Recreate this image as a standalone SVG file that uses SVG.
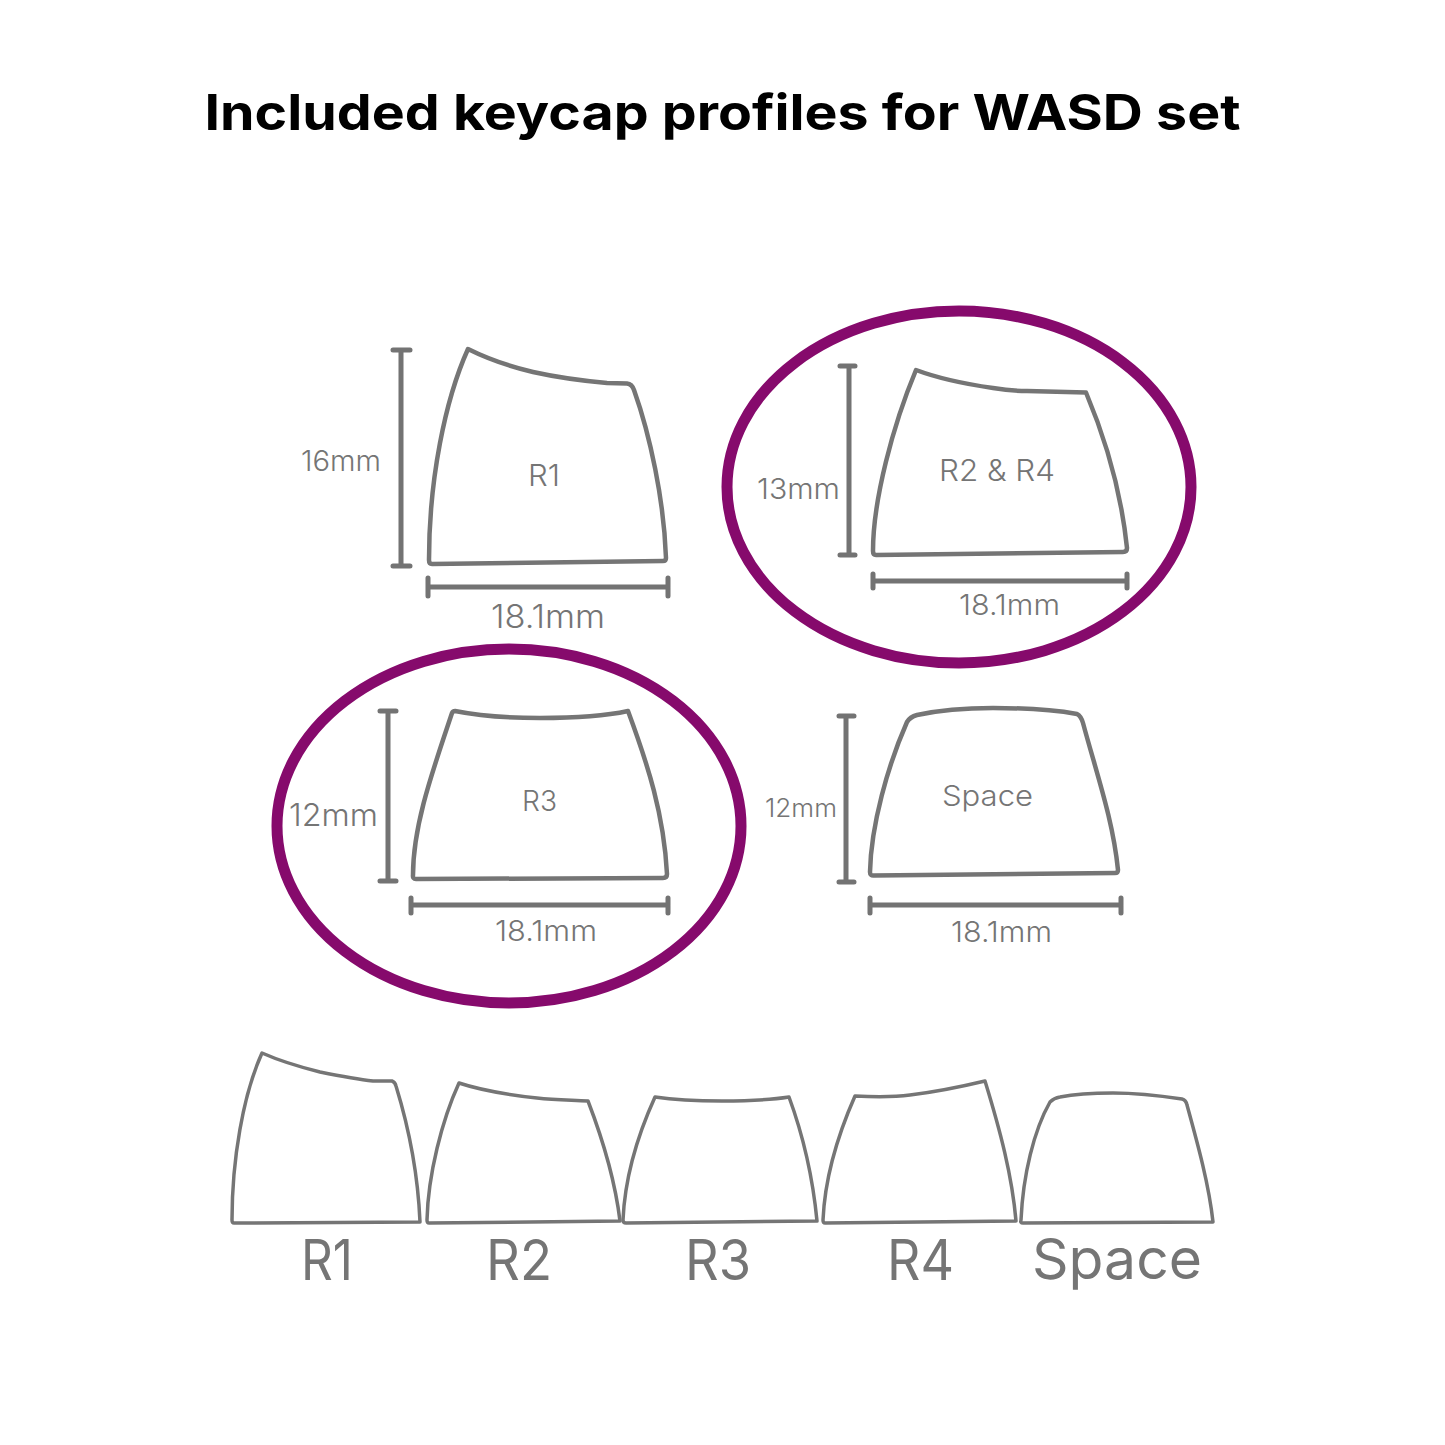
<svg xmlns="http://www.w3.org/2000/svg" width="1445" height="1445" viewBox="0 0 1445 1445">
<style>
.cap{fill:none;stroke:#757575;stroke-linejoin:round;stroke-linecap:round}
.big{stroke-width:4.5}
.small{stroke-width:3.5}
.dim{fill:none;stroke:#737373;stroke-width:5;stroke-linecap:round}
.ring{fill:none;stroke:#860a6c;stroke-width:11}
.t{font-family:"Inter","Noto Sans",sans-serif;fill:#757575;font-weight:300;text-anchor:middle}
.r{font-weight:400}
.title{font-family:"Inter","Liberation Sans",sans-serif;font-weight:700;font-size:49.5px;fill:#000}
</style>
<rect width="1445" height="1445" fill="#fff"/>
<text class="title" x="722.5" y="130" text-anchor="middle" textLength="1036" lengthAdjust="spacingAndGlyphs">Included keycap profiles for WASD set</text>
<g id="ring-r2r4"><ellipse class="ring" cx="959" cy="487" rx="232" ry="176"/></g>
<g id="ring-r3"><ellipse class="ring" cx="509" cy="826" rx="232" ry="177"/></g>
<g id="cap-r1"><path class="cap big" d="M468 349C490 360 512 367 533 372C560 378 585 381 607 383L627 383.5Q632 384 634 390C650 435 664 500 666 558Q666 561 663 561L432 564Q429 564 429 560C429 480 445 400 468 349Z"/><text class="t" x="544" y="486" font-size="30" textLength="32" lengthAdjust="spacingAndGlyphs">R1</text></g>
<g id="cap-r2r4"><path class="cap big" d="M916 370C940 379 965 384 993 388C1005 390 1015 391 1027 391L1086 392.500C1106 440 1121 490 1127 548Q1127 552 1123 552L876 555Q873 555 873 551C873 500 893 425 916 370Z"/><text class="t" x="997" y="481" font-size="30" textLength="116" lengthAdjust="spacingAndGlyphs">R2 &amp; R4</text></g>
<g id="cap-r3"><path class="cap big" d="M455 711C480 716 510 718 540 718C575 718 605 716 628 711C648 765 664 815 667 874Q667 878 663 878L416 879Q412.500 879 413 875C413 825 433 770 452 713Q453 711 455 711Z"/><text class="t" x="539.500" y="811" font-size="29" textLength="35" lengthAdjust="spacingAndGlyphs">R3</text></g>
<g id="cap-space"><path class="cap big" d="M907 722Q910 717 917 715C940 710 965 708 993 708C1025 708 1055 710 1077 714Q1081 716 1083 723C1097 775 1113 820 1118 870Q1118 873 1115 873L874 875.500Q870 876 870 872C871 825 888 765 907 722Z"/><text class="t" x="987.500" y="806" font-size="29" textLength="91" lengthAdjust="spacingAndGlyphs">Space</text></g>
<g id="dimensions">
<path class="dim" d="M393 350H410M401 350V566M393 566H410"/>
<path class="dim" d="M428 578V596M428 587H668M668 578V596"/>
<path class="dim" d="M840 366H855M849 366V555M840 555H855"/>
<path class="dim" d="M873 574V588M873 581H1127M1127 574V588"/>
<path class="dim" d="M380 711H396M388 711V881M380 881H396"/>
<path class="dim" d="M411 898V913M411 905H668M668 898V913"/>
<path class="dim" d="M839 716H854M846 716V882M839 882H854"/>
<path class="dim" d="M870 898V913M870 905H1121M1121 898V913"/>
</g>
<g id="labels">
<text class="t" x="341" y="471" font-size="28" textLength="80" lengthAdjust="spacingAndGlyphs">16mm</text>
<text class="t" x="548" y="628" font-size="32" textLength="114" lengthAdjust="spacingAndGlyphs">18.1mm</text>
<text class="t" x="798.500" y="499" font-size="29" textLength="83" lengthAdjust="spacingAndGlyphs">13mm</text>
<text class="t" x="1009.500" y="615" font-size="29" textLength="101" lengthAdjust="spacingAndGlyphs">18.1mm</text>
<text class="t" x="333.500" y="826" font-size="31" textLength="89" lengthAdjust="spacingAndGlyphs">12mm</text>
<text class="t" x="546" y="941" font-size="29" textLength="102" lengthAdjust="spacingAndGlyphs">18.1mm</text>
<text class="t" x="801" y="817" font-size="25" textLength="72" lengthAdjust="spacingAndGlyphs">12mm</text>
<text class="t" x="1001.500" y="942" font-size="29" textLength="101" lengthAdjust="spacingAndGlyphs">18.1mm</text>
</g>
<g id="row-r1"><path class="cap small" d="M262 1053C280 1061 300 1067 320 1072C340 1076 355 1079 373 1081L392 1081Q395 1082 396 1086C408 1125 418 1175 420 1222L234 1223Q232 1223 232 1220C232 1160 243 1095 262 1053Z"/><text class="t r" x="327" y="1280" font-size="56" textLength="52" lengthAdjust="spacingAndGlyphs">R1</text></g>
<g id="row-r2"><path class="cap small" d="M459 1083C480 1090 510 1095 537 1098C555 1100 570 1100 588 1101C603 1140 615 1180 620 1221L429 1223Q427 1223 427 1220C428 1175 442 1120 459 1083Z"/><text class="t r" x="519" y="1280" font-size="56" textLength="66" lengthAdjust="spacingAndGlyphs">R2</text></g>
<g id="row-r3"><path class="cap small" d="M655 1097C675 1100 700 1101 722 1101C745 1101 770 1100 789 1097C803 1135 813 1180 817 1221L626 1223Q623 1223 623 1220C625 1175 640 1130 655 1097Z"/><text class="t r" x="718" y="1280" font-size="56" textLength="66" lengthAdjust="spacingAndGlyphs">R3</text></g>
<g id="row-r4"><path class="cap small" d="M855 1096C875 1097 895 1097 910 1095C935 1092 960 1087 985 1081C1000 1130 1012 1175 1016 1221L825 1223Q823 1223 823 1220C825 1175 840 1130 855 1096Z"/><text class="t r" x="920.500" y="1280" font-size="56" textLength="67" lengthAdjust="spacingAndGlyphs">R4</text></g>
<g id="row-space"><path class="cap small" d="M1050 1102Q1054 1098 1060 1097C1075 1094 1095 1093 1113 1093C1140 1093 1162 1096 1182 1099Q1186 1100 1187 1105C1198 1145 1209 1185 1213 1222L1023 1223Q1020 1223 1021 1220C1023 1175 1034 1130 1050 1102Z"/><text class="t r" x="1117" y="1279" font-size="56" textLength="170" lengthAdjust="spacingAndGlyphs">Space</text></g>
</svg>
